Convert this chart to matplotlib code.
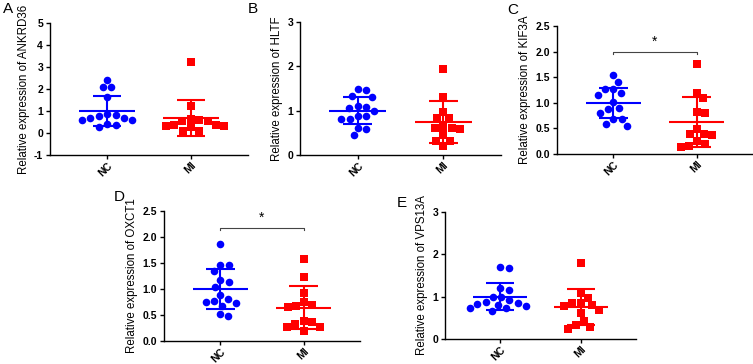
import numpy as np
import matplotlib
matplotlib.use("Agg")
import matplotlib.pyplot as plt

plt.rcParams['font.family'] = ['Liberation Sans', 'DejaVu Sans']

# groups and colours
groups = ["NC", "MI"]

# values
genes = ["ANKRD36", "HLTF", "KIF3A", "OXCT1", "VPS13A"]
letters = ["A", "B", "C", "D", "E"]

ankrd36_nc = [2.43, 2.08, 2.08, 1.63, 0.88, 0.84, 0.76, 0.70, 0.70, 0.60, 0.58, 0.43, 0.37, 0.29]
ankrd36_mi = [3.22, 1.22, 0.65, 0.53, 0.53, 0.60, 0.36, 0.33, 0.26, 0.33, 0.35, 0.10, 0.10]
hltf_nc = [1.48, 1.46, 1.33, 1.31, 1.08, 1.10, 1.00, 1.07, 0.89, 0.88, 0.81, 0.82, 0.62, 0.59, 0.45]
hltf_mi = [1.93, 1.31, 0.98, 0.84, 0.84, 0.59, 0.62, 0.64, 0.60, 0.44, 0.32, 0.32, 0.21]
kif3a_nc = [1.55, 1.41, 1.27, 1.27, 1.20, 1.16, 1.01, 0.89, 0.88, 0.80, 0.69, 0.68, 0.55, 0.59]
kif3a_mi = [1.75, 1.20, 1.09, 0.81, 0.82, 0.49, 0.39, 0.38, 0.39, 0.25, 0.20, 0.16, 0.13]
oxct1_nc = [1.87, 1.47, 1.46, 1.35, 1.13, 1.17, 1.04, 0.88, 0.76, 0.73, 0.75, 0.80, 0.67, 0.49, 0.51]
oxct1_mi = [1.58, 1.24, 0.93, 0.69, 0.65, 0.67, 0.75, 0.36, 0.38, 0.33, 0.27, 0.27, 0.19]
vps13a_nc = [1.70, 1.67, 1.16, 1.20, 1.00, 1.00, 0.88, 0.86, 0.92, 0.81, 0.83, 0.73, 0.73, 0.79, 0.66]
vps13a_mi = [1.80, 1.08, 0.98, 0.77, 0.84, 0.84, 0.80, 0.62, 0.68, 0.43, 0.32, 0.29, 0.23]

nc_values = [ankrd36_nc, hltf_nc, kif3a_nc, oxct1_nc, vps13a_nc]
mi_values = [ankrd36_mi, hltf_mi, kif3a_mi, oxct1_mi, vps13a_mi]

# mean and SD shown in each panel
nc_mean = [1.00, 1.00, 1.00, 1.00, 1.00]
nc_sd = [0.70, 0.31, 0.29, 0.39, 0.32]
mi_mean = [0.67, 0.74, 0.62, 0.64, 0.75]
mi_sd = [0.81, 0.47, 0.49, 0.41, 0.42]

y_ranges = [(-1, 5), (0, 3), (0, 2.5), (0, 2.5), (0, 3)]
y_steps = [1, 1, 0.5, 0.5, 1]
y_fmt = ["{:.0f}", "{:.0f}", "{:.1f}", "{:.1f}", "{:.0f}"]

# significance brackets (None = not shown)
sig_y = [None, None, 2.0, 2.18, None]
sig_text = [None, None, "*", "*", None]

W, H = 753, 364
fig = plt.figure(figsize=(W / 100, H / 100), dpi=100)

# axes boxes in pixels: left, top, right, bottom
boxes = [(50, 23, 248, 155), (300, 22, 501, 155), (557, 26, 753, 154),
         (164, 211, 360, 341), (445, 212, 636, 339)]
letter_pos = [(8, 9), (253, 9), (513, 10), (119, 197), (402, 203)]

blue = "#0000ff"
red = "#ff0000"


def swarm(ax, x0, vals, diam=8.5):
    trans = ax.transData
    inv = trans.inverted()
    placed = []
    xs = np.zeros(len(vals))
    offs = [0.0]
    for k in range(1, 400):
        offs += [k * 0.5, -k * 0.5]
    for i in np.argsort(vals)[::-1]:
        px, py = trans.transform((x0, vals[i]))
        for off in offs:
            ok = all((px + off - qx) ** 2 + (py - qy) ** 2 >= diam ** 2 for qx, qy in placed)
            if ok:
                break
        placed.append((px + off, py))
        xs[i] = inv.transform((px + off, py))[0]
    return xs


for i in range(5):
    l, t, r, b = boxes[i]
    ax = fig.add_axes([l / W, 1 - b / H, (r - l) / W, (b - t) / H])
    ax.set_xlim(-0.68, 1.68)
    ax.set_ylim(*y_ranges[i])
    for s in ["top", "right"]:
        ax.spines[s].set_visible(False)
    for s in ["left", "bottom"]:
        ax.spines[s].set_linewidth(1.0)

    groups_data = [(0, nc_values[i], nc_mean[i], nc_sd[i], blue, "o", 30),
                   (1, mi_values[i], mi_mean[i], mi_sd[i], red, "s", 26)]
    for x0, vals, m, sd, col, mk, sz in groups_data:
        xs = swarm(ax, x0, vals)
        ax.scatter(xs, vals, s=sz, marker=mk, color=col, linewidths=0, zorder=3)
        ax.hlines(m, x0 - 0.335, x0 + 0.335, color=col, lw=1.5, zorder=2)
        ax.vlines(x0, m - sd, m + sd, color=col, lw=1.5, zorder=2)
        ax.hlines([m - sd, m + sd], x0 - 0.17, x0 + 0.17, color=col, lw=1.5, zorder=2)

    lo, hi = y_ranges[i]
    ticks = np.arange(lo, hi + 1e-9, y_steps[i])
    ax.set_yticks(ticks)
    ax.set_yticklabels([y_fmt[i].format(v) for v in ticks], fontweight="bold", fontsize=7.5)
    ax.set_xticks([0, 1])
    ax.set_xticklabels(groups, rotation=45, ha="right", rotation_mode="anchor",
                       fontweight="bold", fontsize=7.5)
    ax.tick_params(length=3, width=1.0)
    ax.tick_params(axis="y", pad=2)
    ax.tick_params(axis="x", pad=1)
    ax.set_ylabel("Relative expression of " + genes[i], fontsize=8.3, labelpad=3)

    if sig_y[i] is not None:
        yb = sig_y[i]
        d = (hi - lo) * 0.02
        ax.plot([0, 0, 1, 1], [yb - d, yb, yb, yb - d], color="#444444", lw=0.8)
        ax.text(0.5, yb + d, sig_text[i], ha="center", va="bottom", fontsize=10)

    lx, ly = letter_pos[i]
    fig.text(lx / W, 1 - ly / H, letters[i], ha="center", va="center", fontsize=11)

fig.savefig("out.png", dpi=100)
